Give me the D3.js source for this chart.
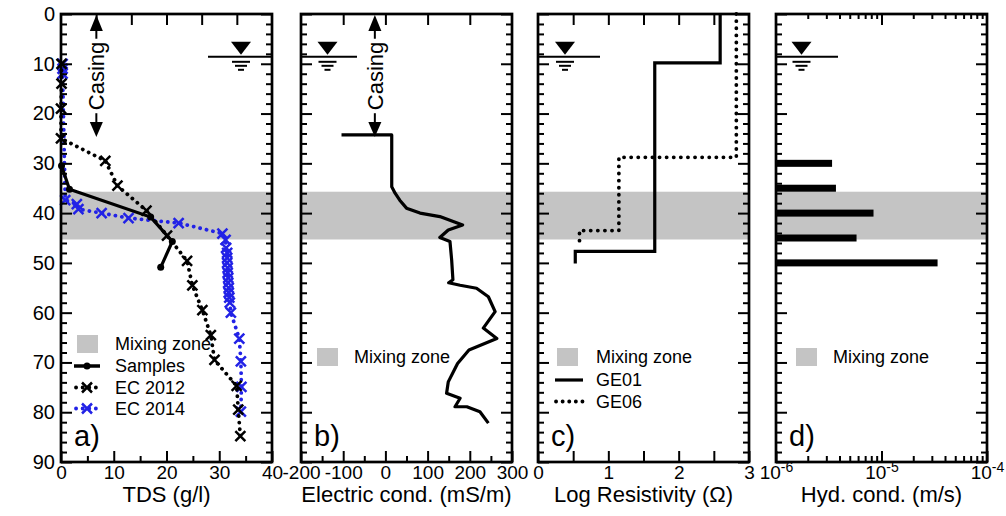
<!DOCTYPE html>
<html>
<head>
<meta charset="utf-8">
<script src="https://cdn.jsdelivr.net/npm/d3@7"></script>
<style>
  body { margin: 0; background: #fff; }
  svg { display: block; }
</style>
</head>
<body>
<svg id="chart" width="1006" height="516"></svg>
<script>
// ---- data ----
const depthMajor = d3.range(0, 91, 10)
const depthMinor = d3.range(0, 91, 2).filter(d => d % 10 !== 0)
const mixingZone = [35.7, 45.3]
const waterTable = 8.6
const casing = [0, 24.7]

// a) TDS
const samplesDepth = [30.5, 35.2, 40.8, 45.7, 50.9]
const samplesTDS = [0.1, 1.6, 17.0, 21.1, 18.9]
const ec2012Depth = [10, 14, 19, 25, 29.5, 34.5, 39.5, 44.5, 49.6, 54.5, 59.5, 64.5, 69.5, 74.7, 79.5, 84.8]
const ec2012TDS = [0.1, 0.1, 0, 0, 8.4, 10.7, 16.2, 20.1, 23.9, 24.9, 26.8, 28.4, 29.1, 33.3, 33.6, 34.0]
const ec2014Depth = [10, 11, 12, 37.4, 38.2, 39.2, 40, 41, 42, 44.1, 45.4, 47, 48, 49, 50, 51, 52, 53, 54, 55, 56, 57, 58, 60, 65.2, 69.8, 74.9, 79.9]
const ec2014TDS = [0.3, 0.3, 0.3, 0.8, 3.0, 3.3, 7.7, 12.8, 22.3, 30.6, 31.2, 31.3, 31.5, 31.5, 31.5, 31.6, 31.6, 31.7, 31.7, 31.8, 31.8, 31.9, 32.0, 32.2, 33.8, 34.1, 34.2, 34.1]

// b) electric conductivity log
const ecDepth = [24.3, 24.3, 34.7, 36, 37.4, 39, 40, 40.7, 42.4, 43.4, 44.9, 45.7, 49.4, 53.4, 54, 54.5, 55.1, 56.8, 59.8, 63.1, 65.2, 67.5, 70.2, 73.9, 76.2, 77.2, 78.9, 78.9, 79.9, 82.2]
const ecValue = [-104, 15, 15, 23, 34, 50, 82, 129, 183, 149, 129, 153, 157, 160, 150, 177, 216, 244, 260, 232, 264, 198, 171, 149, 145, 177, 165, 193, 224, 244]

// c) log resistivity, layer tops (step profile)
const ge01Depth = [0, 9.8, 47.7, 50.1]
const ge01Res = [2.59, 1.66, 0.53, 0.53]
const ge06Depth = [0, 28.8, 43.5, 46.7]
const ge06Res = [2.82, 1.15, 0.59, 0.59]

// d) hydraulic conductivity
const kDepth = [30, 35, 40, 45, 50]
const kValue = [3.4e-6, 3.7e-6, 8.4e-6, 5.8e-6, 3.4e-5]

// ---- layout ----
const FONT = '"Liberation Sans", Arial, Helvetica, sans-serif'
const TOP = 14, BOTTOM = 462, PW = 211
const BLUE = '#2222e6', GREY = '#c4c4c4'

const svg = d3.select('#chart')
const y = d3.scaleLinear().domain([0, 90]).range([TOP, BOTTOM])

const zip = (ds, vs) => ds.map((d, i) => ({ d: d, v: vs[i] }))
const plain = d => String(d)   // hyphen minus, like the original

function styleAxis(sel, size) {
  sel.select('.domain').remove()
  sel.selectAll('line').attr('stroke', '#000').attr('stroke-width', 2)
  sel.selectAll('text').attr('font-size', size).attr('font-family', FONT).attr('fill', '#000')
}

function frame(p) {
  const g = svg.append('g')
  const x = p.x, right = p.left + PW

  g.append('g').attr('transform', `translate(0,${BOTTOM})`)
    .call(d3.axisBottom(x).tickValues(p.bottomMajor).tickSize(-11).tickPadding(3).tickFormat(p.fmt))
    .call(styleAxis, 19)
  g.append('g').attr('transform', `translate(0,${BOTTOM})`)
    .call(d3.axisBottom(x).tickValues(p.bottomMinor).tickSize(-p.minorLen).tickFormat(''))
    .call(styleAxis, 19)
  g.append('g').attr('transform', `translate(0,${TOP})`)
    .call(d3.axisTop(x).tickValues(p.topMajor).tickSize(-11).tickFormat(''))
    .call(styleAxis, 19)
  g.append('g').attr('transform', `translate(0,${TOP})`)
    .call(d3.axisTop(x).tickValues(p.topMinor).tickSize(-5).tickFormat(''))
    .call(styleAxis, 19)

  g.append('g').attr('transform', `translate(${p.left},0)`)
    .call(d3.axisLeft(y).tickValues(depthMajor).tickSize(-11).tickPadding(6).tickFormat(p.id === 'a' ? plain : ''))
    .call(styleAxis, 20)
  g.append('g').attr('transform', `translate(${p.left},0)`)
    .call(d3.axisLeft(y).tickValues(depthMinor).tickSize(-6).tickFormat(''))
    .call(styleAxis, 20)
  g.append('g').attr('transform', `translate(${right},0)`)
    .call(d3.axisRight(y).tickValues(depthMajor).tickSize(-11).tickFormat(''))
    .call(styleAxis, 20)
  g.append('g').attr('transform', `translate(${right},0)`)
    .call(d3.axisRight(y).tickValues(depthMinor).tickSize(-6).tickFormat(''))
    .call(styleAxis, 20)

  g.append('rect').attr('x', p.left).attr('y', TOP).attr('width', PW).attr('height', BOTTOM - TOP)
    .attr('fill', 'none').attr('stroke', '#000').attr('stroke-width', 2.7)

  // x title
  svg.append('text').attr('x', p.left + PW / 2).attr('y', 502).attr('text-anchor', 'middle')
    .attr('font-family', FONT).attr('font-size', 22).text(p.title)
  // panel letter
  svg.append('text').attr('x', p.left + 13).attr('y', 446)
    .attr('font-family', FONT).attr('font-size', 29).text(p.id + ')')
  return g
}

function band(p) {
  svg.append('rect').attr('x', p.left).attr('width', PW)
    .attr('y', y(mixingZone[0])).attr('height', y(mixingZone[1]) - y(mixingZone[0]))
    .attr('fill', GREY)
}

function water(cx, x0, x1) {
  const yy = y(waterTable)
  const g = svg.append('g').attr('stroke', '#000').attr('stroke-width', 2)
  g.append('line').attr('x1', x0).attr('x2', x1).attr('y1', yy).attr('y2', yy)
  g.append('path').attr('d', `M${cx - 10},${yy - 15}L${cx + 10},${yy - 15}L${cx},${yy - 2}Z`).attr('fill', '#000').attr('stroke', 'none')
  ;[[9, 5], [6, 9], [3, 13]].forEach(([w, dy]) => {
    g.append('line').attr('x1', cx - w).attr('x2', cx + w).attr('y1', yy + dy).attr('y2', yy + dy)
  })
}

function casingArrow(ax) {
  const y0 = y(casing[0]) + 1, y1 = y(casing[1])
  const mid = (y0 + y1) / 2
  const g = svg.append('g')
  const t = g.append('text').attr('transform', `translate(${ax},${mid}) rotate(-90)`)
    .attr('text-anchor', 'middle').attr('dy', '0.36em')
    .attr('font-family', FONT).attr('font-size', 22).text('Casing')
  const half = t.node().getComputedTextLength() / 2 + 3
  g.append('path').attr('d', `M${ax - 6.5},${y0 + 16}L${ax + 6.5},${y0 + 16}L${ax},${y0}Z`)
  g.append('path').attr('d', `M${ax - 6.5},${y1 - 15}L${ax + 6.5},${y1 - 15}L${ax},${y1}Z`)
  g.append('line').attr('x1', ax).attr('x2', ax).attr('y1', y0 + 14).attr('y2', mid - half).attr('stroke', '#000').attr('stroke-width', 2)
  g.append('line').attr('x1', ax).attr('x2', ax).attr('y1', mid + half).attr('y2', y1 - 13).attr('stroke', '#000').attr('stroke-width', 2)
}

function crosses(data, x, color) {
  svg.append('g').selectAll('path').data(data).enter().append('path')
    .attr('d', 'M-5,-5L5,5M-5,5L5,-5')
    .attr('transform', d => `translate(${x(d.v)},${y(d.d)})`)
    .attr('stroke', color).attr('stroke-width', 2.5).attr('fill', 'none')
}

function legendSwatch(lx, tx, cy, label) {
  svg.append('rect').attr('x', lx).attr('y', cy - 9).attr('width', 21).attr('height', 18).attr('fill', GREY)
  legendText(tx, cy, label)
}
function legendText(tx, cy, label) {
  svg.append('text').attr('x', tx).attr('y', cy).attr('dy', '0.35em')
    .attr('font-family', FONT).attr('font-size', 18).text(label)
}

// ---- panel a ----
const xa = d3.scaleLinear().domain([0, 40]).range([61, 61 + PW])
const pa = { id: 'a', left: 61, x: xa, title: 'TDS (g/l)', fmt: plain,
  bottomMajor: [0, 10, 20, 30, 40], bottomMinor: [5, 15, 25, 35], minorLen: 6,
  topMajor: d3.range(1, 6).map(k => k * 40 / 6), topMinor: [] }
band(pa)
const lineA = d3.line().x(d => xa(d.v)).y(d => y(d.d))
svg.append('path').datum(zip(ec2014Depth, ec2014TDS)).attr('d', lineA)
  .attr('fill', 'none').attr('stroke', BLUE).attr('stroke-width', 3.8)
  .attr('stroke-dasharray', '0.1 6.5').attr('stroke-linecap', 'round')
crosses(zip(ec2014Depth, ec2014TDS), xa, BLUE)
svg.append('path').datum(zip(ec2012Depth, ec2012TDS)).attr('d', lineA)
  .attr('fill', 'none').attr('stroke', '#000').attr('stroke-width', 3.8)
  .attr('stroke-dasharray', '0.1 6.5').attr('stroke-linecap', 'round')
crosses(zip(ec2012Depth, ec2012TDS), xa, '#000')
svg.append('path').datum(zip(samplesDepth, samplesTDS)).attr('d', lineA)
  .attr('fill', 'none').attr('stroke', '#000').attr('stroke-width', 3.2)
svg.append('g').selectAll('circle').data(zip(samplesDepth, samplesTDS)).enter().append('circle')
  .attr('cx', d => xa(d.v)).attr('cy', d => y(d.d)).attr('r', 3.5).attr('fill', '#000')
frame(pa)
water(241, 208, 61 + PW)
casingArrow(xa(6.7))

legendSwatch(77, 115, 344, 'Mixing zone')
svg.append('line').attr('x1', 74).attr('x2', 100).attr('y1', 366).attr('y2', 366).attr('stroke', '#000').attr('stroke-width', 3.5)
svg.append('circle').attr('cx', 87).attr('cy', 366).attr('r', 3.5)
legendText(115, 366, 'Samples')
;[['#000', 387.5, 'EC 2012'], [BLUE, 408.5, 'EC 2014']].forEach(([c, cy, lab]) => {
  svg.append('line').attr('x1', 76).attr('x2', 98).attr('y1', cy).attr('y2', cy)
    .attr('stroke', c).attr('stroke-width', 3.8).attr('stroke-dasharray', '0.1 6.5').attr('stroke-linecap', 'round')
  svg.append('path').attr('d', 'M-5,-5L5,5M-5,5L5,-5').attr('transform', `translate(87,${cy})`)
    .attr('stroke', c).attr('stroke-width', 2.5)
  legendText(115, cy, lab)
})

// ---- panel b ----
const xb = d3.scaleLinear().domain([-200, 300]).range([301, 301 + PW])
const pb = { id: 'b', left: 301, x: xb, title: 'Electric cond. (mS/m)', fmt: plain,
  bottomMajor: [-200, -100, 0, 100, 200, 300], bottomMinor: [-150, -50, 50, 150, 250], minorLen: 6,
  topMajor: [-100, 0, 100, 200], topMinor: [] }
band(pb)
svg.append('path').datum(zip(ecDepth, ecValue))
  .attr('d', d3.line().x(d => xb(d.v)).y(d => y(d.d)))
  .attr('fill', 'none').attr('stroke', '#000').attr('stroke-width', 3.2).attr('stroke-linejoin', 'round')
frame(pb)
water(327.5, 301, 357)
casingArrow(xb(-25))
legendSwatch(317, 354, 357, 'Mixing zone')

// ---- panel c ----
const xc = d3.scaleLinear().domain([0, 3]).range([538, 538 + PW])
const pc = { id: 'c', left: 538, x: xc, title: 'Log Resistivity (\u03A9)', fmt: plain,
  bottomMajor: [0, 1, 2, 3], bottomMinor: [0.5, 1.5, 2.5], minorLen: 11,
  topMajor: [0.5, 1, 1.5, 2, 2.5], topMinor: [] }
band(pc)
const stepC = d3.line().x(d => xc(d.v)).y(d => y(d.d)).curve(d3.curveStepBefore)
svg.append('path').datum(zip(ge06Depth, ge06Res)).attr('d', stepC)
  .attr('fill', 'none').attr('stroke', '#000').attr('stroke-width', 3.8)
  .attr('stroke-dasharray', '0.1 7').attr('stroke-linecap', 'round')
svg.append('path').datum(zip(ge01Depth, ge01Res)).attr('d', stepC)
  .attr('fill', 'none').attr('stroke', '#000').attr('stroke-width', 3.2)
frame(pc)
water(565, 538, 600)
legendSwatch(557, 596, 357, 'Mixing zone')
svg.append('line').attr('x1', 555).attr('x2', 583).attr('y1', 380).attr('y2', 380).attr('stroke', '#000').attr('stroke-width', 3.2)
legendText(596, 380, 'GE01')
svg.append('line').attr('x1', 556).attr('x2', 583).attr('y1', 401.5).attr('y2', 401.5).attr('stroke', '#000')
  .attr('stroke-width', 3.8).attr('stroke-dasharray', '0.1 6.5').attr('stroke-linecap', 'round')
legendText(596, 401.5, 'GE06')

// ---- panel d ----
const xd = d3.scaleLog().domain([1e-6, 1e-4]).range([776, 776 + PW])
const logMinor = [1e-6, 1e-5].flatMap(b => d3.range(2, 10).map(m => m * b))
const pd = { id: 'd', left: 776, x: xd, title: 'Hyd. cond. (m/s)', fmt: d => '10',
  bottomMajor: [1e-6, 1e-5, 1e-4], bottomMinor: logMinor, minorLen: 6,
  topMajor: [1e-5], topMinor: logMinor }
band(pd)
svg.append('g').selectAll('rect').data(zip(kDepth, kValue)).enter().append('rect')
  .attr('x', xd(1e-6)).attr('y', d => y(d.d) - 3.5)
  .attr('width', d => xd(d.v) - xd(1e-6)).attr('height', 7).attr('fill', '#000')
const gd = frame(pd)
gd.selectAll('text').filter(function () { return this.textContent === '10' }).each(function (d) {
  const t = d3.select(this)
  t.append('tspan').attr('dy', '-0.45em').attr('font-size', 14).text(plain(Math.round(Math.log10(d))))
})
water(801.5, 776, 838)
legendSwatch(796, 833, 357, 'Mixing zone')
</script>
</body>
</html>
